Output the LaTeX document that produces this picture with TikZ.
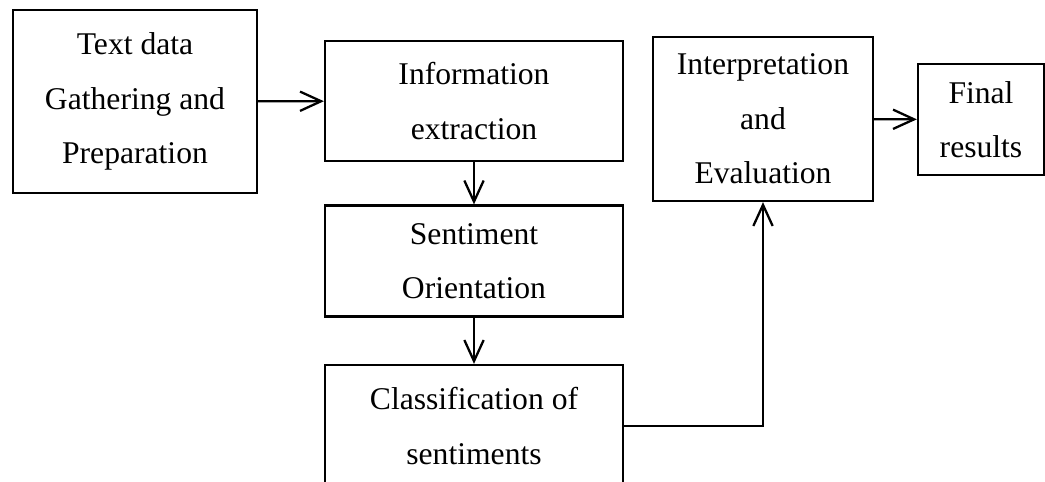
\documentclass[tikz,border=0pt]{standalone}
\usepackage{fontspec}
\setmainfont{Liberation Serif}
\usetikzlibrary{arrows.meta}
\begin{document}
\begin{tikzpicture}[x=0.02cm, y=-0.02cm, line join=miter,
		font=\fontsize{18}{31}\selectfont,
		box/.style={draw, line width=1.3pt, align=center, inner sep=0pt},
		flow/.style={line width=1.3pt, -{Straight Barb[length=12pt, width=11pt, line width=1.3pt]}}]
	\useasboundingbox (0,0) rectangle (1045,482);
	\node[box, minimum width=244*0.02cm, minimum height=183*0.02cm] (gather) at (135,101.5)
		{Text data\\Gathering and\\Preparation};
	\node[box, minimum width=298*0.02cm, minimum height=120*0.02cm] (extract) at (474,101)
		{Information\\extraction};
	\node[box, minimum width=298*0.02cm, minimum height=111*0.02cm] (orient) at (474,261)
		{Sentiment\\Orientation};
	\node[box, minimum width=298*0.02cm, minimum height=122*0.02cm] (classify) at (474,426)
		{Classification of\\sentiments};
	\node[box, minimum width=220*0.02cm, minimum height=164*0.02cm] (interp) at (763,119)
		{Interpretation\\and\\Evaluation};
	\node[box, minimum width=126*0.02cm, minimum height=111*0.02cm] (final) at (981,119.5)
		{Final\\results};
	% connectors
	\draw[flow] (gather) -- (extract);
	\draw[flow] (extract) -- (orient);
	\draw[flow] (orient) -- (classify);
	\draw[flow] (classify.east) -| (interp.south);
	\draw[flow] (interp) -- (final);
\end{tikzpicture}
\end{document}
